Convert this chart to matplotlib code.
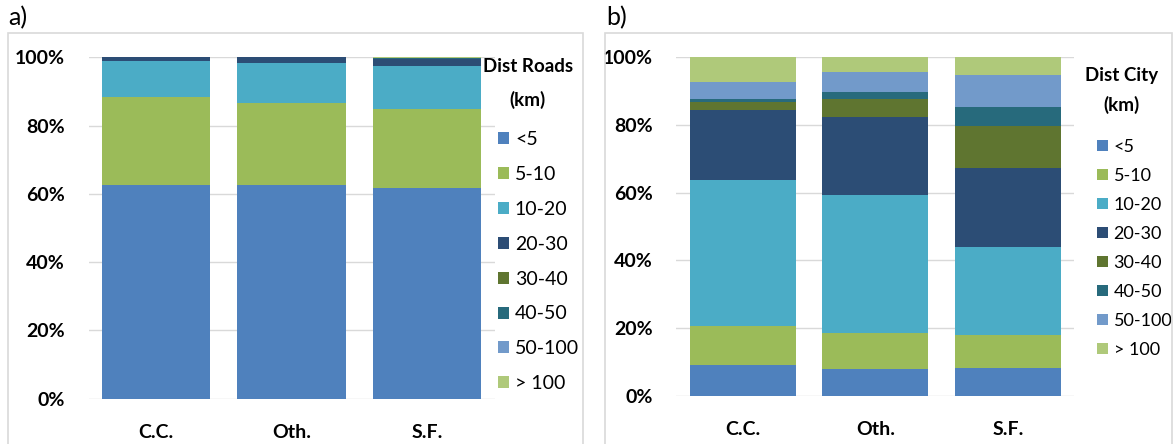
import matplotlib
matplotlib.use("Agg")
import matplotlib.pyplot as plt
from matplotlib.patches import Rectangle, Patch
from matplotlib.ticker import PercentFormatter

plt.rcParams['font.family'] = ['Lato', 'DejaVu Sans']

categories = ["C.C.", "Oth.", "S.F."]
classes = ["<5", "5-10", "10-20", "20-30", "30-40", "40-50", "50-100", "> 100"]
colors = ["#4F81BD", "#9BBB59", "#4BACC6", "#2C4D75",
          "#5F7530", "#276A7C", "#729ACA", "#AFC97A"]

# share of each distance class (%), per category: C.C., Oth., S.F.
roads_lt5 = [62.6, 62.6, 61.8]
roads_5_10 = [25.7, 23.9, 23.0]
roads_10_20 = [10.7, 11.8, 12.6]
roads_20_30 = [1.0, 1.7, 2.1]
roads_30_40 = [0.0, 0.0, 0.0]
roads_40_50 = [0.0, 0.0, 0.3]
roads_50_100 = [0.0, 0.0, 0.1]
roads_gt100 = [0.0, 0.0, 0.1]

city_lt5 = [9.1, 7.9, 8.1]
city_5_10 = [11.6, 10.5, 9.8]
city_10_20 = [43.1, 40.9, 26.0]
city_20_30 = [20.6, 23.2, 23.5]
city_30_40 = [2.5, 5.3, 12.3]
city_40_50 = [0.9, 2.0, 5.7]
city_50_100 = [5.0, 6.0, 9.4]
city_gt100 = [7.2, 4.2, 5.2]

roads = [roads_lt5, roads_5_10, roads_10_20, roads_20_30,
         roads_30_40, roads_40_50, roads_50_100, roads_gt100]
city = [city_lt5, city_5_10, city_10_20, city_20_30,
        city_30_40, city_40_50, city_50_100, city_gt100]

W, H = 1173, 444
fig = plt.figure(figsize=(W / 100, H / 100), dpi=100)


def fx(px):
    return px / W


def fy(py):
    return 1 - py / H


# light frames around the two panels
for x0, x1 in [(8, 583), (605, 1172)]:
    fig.patches.append(Rectangle((fx(x0), fy(460)), fx(x1 - x0), (460 - 33) / H,
                                 transform=fig.transFigure, fill=False,
                                 edgecolor="#D9D9D9", linewidth=1.2))

fig.text(fx(8), fy(18), "a)", fontsize=18, va="center", ha="left")
fig.text(fx(606), fy(18), "b)", fontsize=18, va="center", ha="left")

ax_a = fig.add_axes([fx(88.6), fy(398.7), fx(494.6 - 88.6), (398.7 - 57.3) / H])
ax_b = fig.add_axes([fx(676.4), fy(395.7), fx(1074.3 - 676.4), (395.7 - 57.3) / H])


def draw(ax, series):
    x = range(len(categories))
    bottom = [0.0] * len(categories)
    for vals, col in zip(series, colors):
        ax.bar(x, vals, width=0.8, bottom=bottom, color=col, linewidth=0, zorder=2)
        bottom = [b + v for b, v in zip(bottom, vals)]
    ax.set_xlim(-0.5, len(categories) - 0.5)
    ax.set_ylim(0, 100)
    ax.set_yticks(range(0, 101, 20))
    ax.yaxis.set_major_formatter(PercentFormatter(decimals=0))
    ax.set_xticks(list(x))
    ax.set_xticklabels(categories)
    ax.grid(axis="y", color="#D9D9D9", linewidth=1.0, zorder=0)
    ax.set_axisbelow(True)
    for s in ax.spines.values():
        s.set_visible(False)
    ax.tick_params(axis="both", length=0, labelsize=14)
    ax.tick_params(axis="y", pad=17)
    ax.tick_params(axis="x", pad=18)
    for t in ax.get_xticklabels() + ax.get_yticklabels():
        t.set_fontweight("bold")


draw(ax_a, roads)
draw(ax_b, city)

handles = [Patch(facecolor=c, edgecolor="none") for c in colors]


def add_legend(ax, title, title_center, title_y, title_sp, top_y, spacing,
               marker_x, size, hlen):
    ax.legend(handles, classes, loc="upper left",
              bbox_to_anchor=(fx(marker_x), fy(top_y)),
              bbox_transform=fig.transFigure, frameon=False,
              borderpad=0, borderaxespad=0, fontsize=size,
              handlelength=hlen, handleheight=hlen, handletextpad=0.3,
              labelspacing=spacing)
    fig.text(fx(title_center), fy(title_y), title, fontsize=13.5, fontweight="bold",
             ha="center", va="center", linespacing=title_sp)


add_legend(ax_a, "Dist Roads\n(km)", 528, 83.5, 2.0, 131, 0.92, 498, 14, 0.57)
add_legend(ax_b, "Dist City\n(km)", 1121.5, 90.5, 1.75, 139, 0.72, 1097, 13, 0.62)

fig.savefig("out.png", dpi=100)
